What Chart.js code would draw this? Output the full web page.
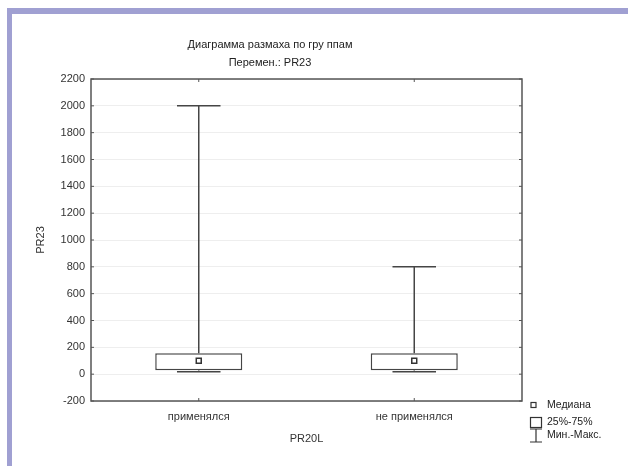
<!DOCTYPE html>
<html>
<head>
<meta charset="utf-8">
<script src="https://cdn.jsdelivr.net/npm/chart.js@4.4.1/dist/chart.umd.min.js"></script>
<style>
  body { margin: 0; background: #fff; }
  #frame {
    position: absolute; left: 7px; top: 8px; width: 616px; height: 452px;
    border-top: 6px solid #a0a0d2; border-left: 5px solid #a0a0d2;
  }
  #wrap { position: relative; width: 616px; height: 452px; }
</style>
</head>
<body>
<div id="frame"><div id="wrap"><canvas id="boxChart"></canvas></div></div>
<script>
const groups = ['применялся', 'не применялся'];
const minVals = [25, 25];
const q1Vals = [30, 30];
const medianVals = [100, 100];
const q3Vals = [155, 155];
const maxVals = [2000, 800];
const yTicks = [-200, 0, 200, 400, 600, 800, 1000, 1200, 1400, 1600, 1800, 2000, 2200];

const FONT = 'Liberation Sans, Arial, sans-serif';
const LINE = '#454545';

// whiskers, frame, inner tick marks, titles and legend
const boxExtras = {
  id: 'boxExtras',
  afterDatasetsDraw(chart) {
    const ctx = chart.ctx;
    const y = chart.scales.y;
    const x = chart.scales.x;
    const area = chart.chartArea;
    const meta = chart.getDatasetMeta(0);

    ctx.save();
    ctx.strokeStyle = LINE;
    ctx.lineWidth = 1.5;
    meta.data.forEach((bar, i) => {
      const cx = bar.x;
      const half = bar.width / 4;
      ctx.beginPath();
      ctx.moveTo(cx, y.getPixelForValue(q3Vals[i]));
      ctx.lineTo(cx, y.getPixelForValue(maxVals[i]));
      ctx.moveTo(cx - half, y.getPixelForValue(maxVals[i]));
      ctx.lineTo(cx + half, y.getPixelForValue(maxVals[i]));
      ctx.moveTo(cx, y.getPixelForValue(q1Vals[i]));
      ctx.lineTo(cx, y.getPixelForValue(minVals[i]));
      ctx.moveTo(cx - half, y.getPixelForValue(minVals[i]) + 1);
      ctx.lineTo(cx + half, y.getPixelForValue(minVals[i]) + 1);
      ctx.stroke();
    });

    // plot frame
    ctx.strokeStyle = '#555';
    ctx.strokeRect(area.left, area.top, area.right - area.left, area.bottom - area.top);

    // inward ticks
    ctx.lineWidth = 1;
    ctx.beginPath();
    yTicks.forEach(v => {
      const py = y.getPixelForValue(v);
      ctx.moveTo(area.left, py); ctx.lineTo(area.left + 3, py);
      ctx.moveTo(area.right, py); ctx.lineTo(area.right - 3, py);
    });
    groups.forEach((g, i) => {
      const px = x.getPixelForValue(i);
      ctx.moveTo(px, area.top); ctx.lineTo(px, area.top + 3);
      ctx.moveTo(px, area.bottom); ctx.lineTo(px, area.bottom - 3);
    });
    ctx.stroke();

    // titles
    ctx.fillStyle = '#222';
    ctx.font = '11px ' + FONT;
    ctx.textAlign = 'center';
    ctx.textBaseline = 'middle';
    ctx.fillText('Диаграмма размаха по гру ппам', 258, 31);
    ctx.fillText('Перемен.: PR23', 258, 49);

    // legend
    ctx.textAlign = 'left';
    ctx.font = '10.5px ' + FONT;
    ctx.strokeStyle = '#333';
    ctx.lineWidth = 1.2;
    ctx.strokeRect(519, 388.5, 5, 5);
    ctx.fillText('Медиана', 535, 391);
    ctx.strokeRect(518.5, 403.5, 11, 10);
    ctx.fillText('25%-75%', 535, 408);
    ctx.beginPath();
    ctx.moveTo(524, 415); ctx.lineTo(524, 428);
    ctx.moveTo(518, 415); ctx.lineTo(530, 415);
    ctx.moveTo(518, 428); ctx.lineTo(530, 428);
    ctx.stroke();
    ctx.fillText('Мин.-Макс.', 535, 421);
    ctx.restore();
  }
};

new Chart(document.getElementById('boxChart'), {
  type: 'bar',
  data: {
    labels: groups,
    datasets: [{
      label: '25%-75%',
      data: q1Vals.map((q, i) => [q, q3Vals[i]]),
      order: 1,
      backgroundColor: '#fff',
      borderColor: LINE,
      borderWidth: 1.5,
      borderSkipped: false,
      categoryPercentage: 1,
      barPercentage: 0.404
    }, {
      type: 'line',
      label: 'Медиана',
      data: medianVals,
      order: 0,
      showLine: false,
      pointStyle: 'rect',
      pointRadius: 3.5,
      pointBackgroundColor: '#fff',
      pointBorderColor: '#333',
      pointBorderWidth: 1.5
    }]
  },
  options: {
    responsive: true,
    maintainAspectRatio: false,
    animation: false,
    layout: { padding: { left: 22, top: 65, right: 106, bottom: 16 } },
    plugins: {
      legend: { display: false },
      tooltip: { enabled: false }
    },
    scales: {
      x: {
        afterFit(s) { s.height = 49; },
        grid: { display: false, drawTicks: false },
        border: { display: false },
        ticks: { color: '#333', font: { family: FONT, size: 11 }, padding: 9 },
        title: { display: true, text: 'PR20L', color: '#333', font: { family: FONT, size: 11 }, padding: { top: 8 } }
      },
      y: {
        min: -200,
        max: 2200,
        afterFit(s) { s.width = 57; },
        afterBuildTicks(s) { s.ticks = yTicks.map(v => ({ value: v })); },
        grid: { color: '#eeeeee', drawTicks: false },
        border: { display: false },
        ticks: {
          color: '#333', font: { family: FONT, size: 11 }, padding: 6,
          callback: v => String(v)
        },
        title: { display: true, text: 'PR23', color: '#333', font: { family: FONT, size: 11 }, padding: 0 }
      }
    }
  },
  plugins: [boxExtras]
});
</script>
</body>
</html>
